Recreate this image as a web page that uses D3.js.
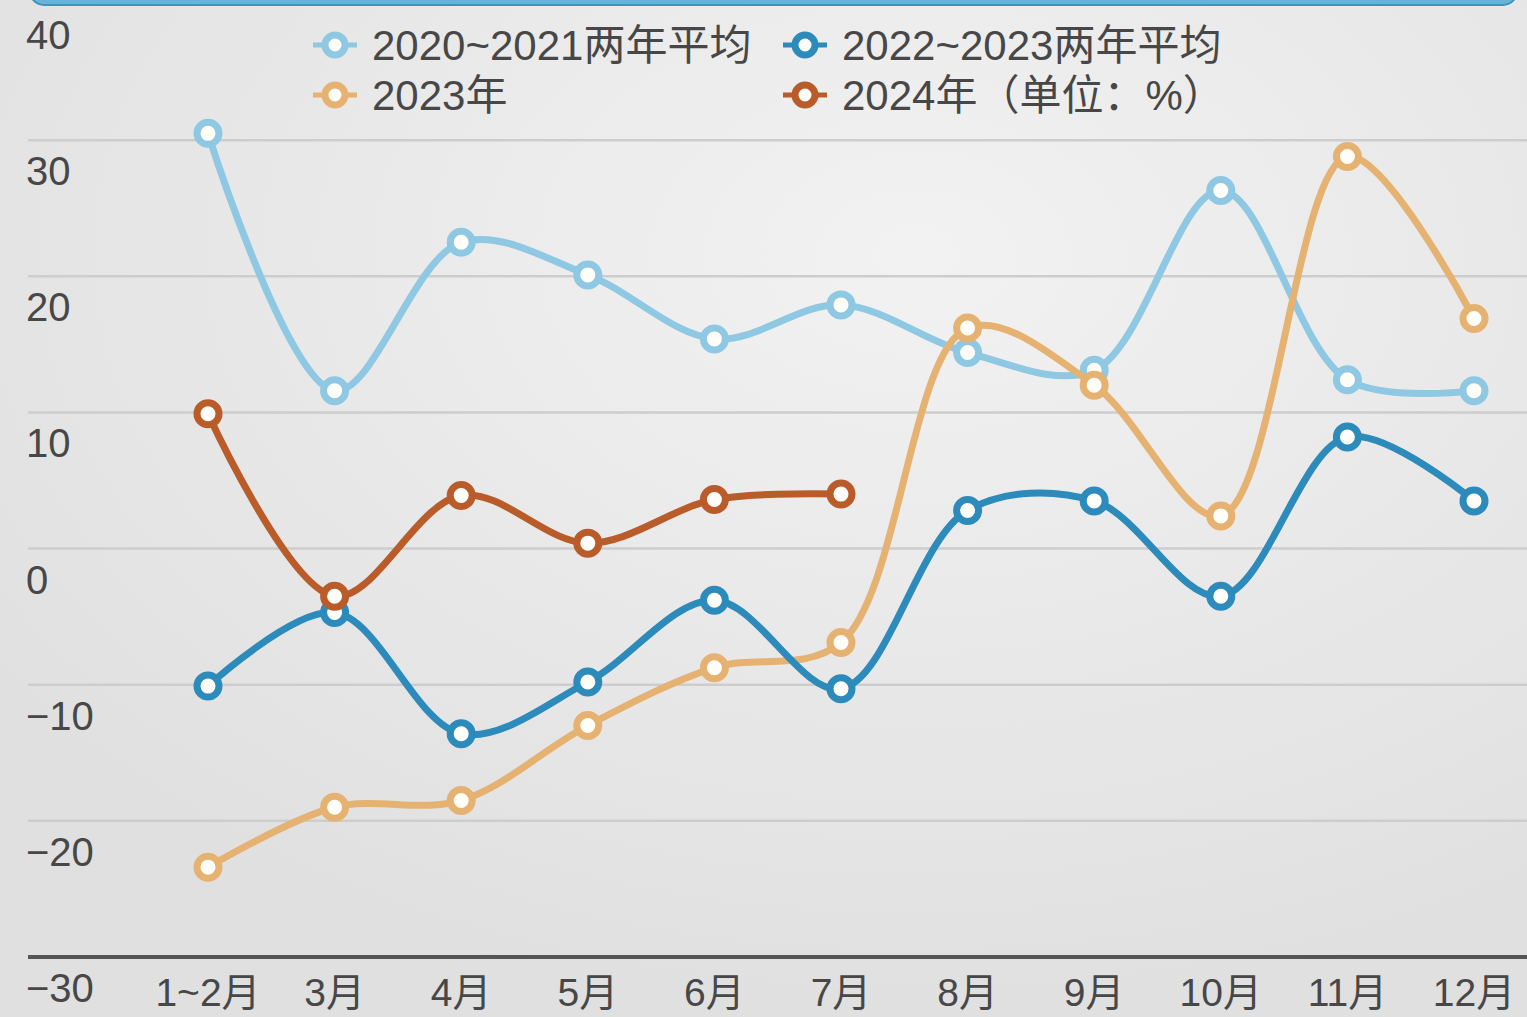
<!DOCTYPE html>
<html>
<head>
<meta charset="utf-8">
<script src="https://cdn.jsdelivr.net/npm/d3@7"></script>
<style>
  html, body { margin: 0; padding: 0; background: #e5e5e5; overflow: hidden; }
  text { font-family: "Liberation Sans", Arial, "Noto Sans CJK SC", sans-serif; fill: #474747; }
</style>
</head>
<body>
<div id="chart"></div>
<script>
const W = 1527, H = 1017;

const months = ["1~2月", "3月", "4月", "5月", "6月", "7月", "8月", "9月", "10月", "11月", "12月"];
const yTicks = [-30, -20, -10, 0, 10, 20, 30, 40];

const avg2021 = [30.5, 11.6, 22.5, 20.1, 15.4, 17.9, 14.4, 13.1, 26.3, 12.4, 11.6];
const avg2023 = [-10.1, -4.7, -13.6, -9.8, -3.8, -10.3, 2.8, 3.5, -3.5, 8.2, 3.5];
const y2023 = [-23.4, -19.0, -18.5, -13.0, -8.75, -6.9, 16.2, 12.0, 2.4, 28.8, 16.9];
const y2024 = [9.9, -3.5, 3.9, 0.4, 3.6, 4.0];

const seriesNames = ["2020~2021两年平均", "2022~2023两年平均", "2023年", "2024年（单位：%）"];
const seriesColors = ["#8ec8e2", "#2c8bbb", "#e6b271", "#b95c2a"];

const series = [
  { name: seriesNames[0], color: seriesColors[0], values: avg2021 },
  { name: seriesNames[2], color: seriesColors[2], values: y2023 },
  { name: seriesNames[1], color: seriesColors[1], values: avg2023 },
  { name: seriesNames[3], color: seriesColors[3], values: y2024 }
];

const svg = d3.select("#chart").append("svg")
  .attr("width", W).attr("height", H);

// background
const defs = svg.append("defs");
const grad = defs.append("radialGradient").attr("id", "bg")
  .attr("cx", "60%").attr("cy", "25%").attr("r", "75%");
grad.append("stop").attr("offset", "0%").attr("stop-color", "#f2f2f2");
grad.append("stop").attr("offset", "100%").attr("stop-color", "#e0e0e0");
svg.append("rect").attr("width", W).attr("height", H).attr("fill", "url(#bg)");

// top bar
svg.append("rect")
  .attr("x", 30).attr("y", -25).attr("width", 1487).attr("height", 30).attr("rx", 14)
  .attr("fill", "#6ab3d8").attr("stroke", "#3f93c0").attr("stroke-width", 2);

const x = d3.scalePoint().domain(months).range([208, 1474]);
const y = d3.scaleLinear().domain([-30, 40]).range([957, 4]);

// gridlines
svg.append("g").selectAll("line")
  .data(yTicks.filter(d => d > -30 && d < 40))
  .join("line")
  .attr("x1", 28).attr("x2", W)
  .attr("y1", d => y(d)).attr("y2", d => y(d))
  .attr("stroke", "#cdcdcd").attr("stroke-width", 2.5);

// y labels (sit below their gridline)
svg.append("g").selectAll("text")
  .data(yTicks)
  .join("text")
  .attr("x", 26)
  .attr("y", d => y(d) + 45)
  .attr("font-size", 40)
  .text(d => d < 0 ? "−" + Math.abs(d) : d);

// x axis line
svg.append("line")
  .attr("x1", 28).attr("x2", W)
  .attr("y1", y(-30)).attr("y2", y(-30))
  .attr("stroke", "#555").attr("stroke-width", 4);

// x labels
svg.append("g").selectAll("text")
  .data(months)
  .join("text")
  .attr("x", d => x(d))
  .attr("y", 1006)
  .attr("text-anchor", "middle")
  .attr("font-size", 39)
  .text(d => d);

const line = d3.line()
  .x((d, i) => x(months[i]))
  .y(d => y(d))
  .curve(d3.curveCatmullRom);

series.forEach(s => {
  const g = svg.append("g");
  g.append("path")
    .attr("d", line(s.values))
    .attr("fill", "none")
    .attr("stroke", s.color)
    .attr("stroke-width", 7)
    .attr("stroke-linecap", "round");
  g.selectAll("circle")
    .data(s.values)
    .join("circle")
    .attr("cx", (d, i) => x(months[i]))
    .attr("cy", d => y(d))
    .attr("r", 11)
    .attr("fill", "#fffdf8")
    .attr("stroke", s.color)
    .attr("stroke-width", 7);
});

// legend
const legendItems = [
  { name: seriesNames[0], color: seriesColors[0], lx: 335, ly: 45 },
  { name: seriesNames[1], color: seriesColors[1], lx: 805, ly: 45 },
  { name: seriesNames[2], color: seriesColors[2], lx: 335, ly: 95 },
  { name: seriesNames[3], color: seriesColors[3], lx: 805, ly: 95 }
];
const lg = svg.append("g").selectAll("g")
  .data(legendItems)
  .join("g")
  .attr("transform", d => `translate(${d.lx},${d.ly})`);
lg.append("line")
  .attr("x1", -22).attr("x2", 22)
  .attr("stroke", d => d.color).attr("stroke-width", 5);
lg.append("circle")
  .attr("r", 10)
  .attr("fill", "#fffdf8")
  .attr("stroke", d => d.color).attr("stroke-width", 7);
lg.append("text")
  .attr("x", 37).attr("y", 15)
  .attr("font-size", 42)
  .text(d => d.name);
</script>
</body>
</html>
